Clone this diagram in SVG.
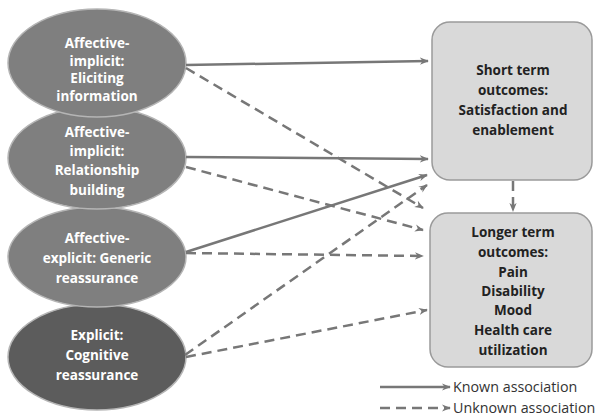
<svg xmlns="http://www.w3.org/2000/svg" width="595" height="418" viewBox="0 0 595 418">
<defs>
<marker id="ah" viewBox="0 0 10 10" refX="9" refY="5" markerWidth="9" markerHeight="9" markerUnits="userSpaceOnUse" orient="auto">
<path d="M0,1 L10,5 L0,9 L3,5 Z" fill="#777"/>
</marker>
<style>
.ell{fill:#7f7f7f;stroke:#b5b5b5;stroke-width:1.5}
.ell4{fill:#5c5c5c;stroke:#b5b5b5;stroke-width:1.5}
.box{fill:#d9d9d9;stroke:#9a9a9a;stroke-width:1.5}
.wt{font-family:"Open Sans","Liberation Sans",sans-serif;font-weight:bold;font-size:13.5px;fill:#fff;text-anchor:middle}
.bt{font-family:"Open Sans","Liberation Sans",sans-serif;font-weight:bold;font-size:13.5px;fill:#222;text-anchor:middle}
.lt{font-family:"Open Sans","Liberation Sans",sans-serif;font-size:14.3px;fill:#333}
.s{stroke:#777;stroke-width:2.5;fill:none;marker-end:url(#ah)}
.d{stroke:#777;stroke-width:2.5;fill:none;stroke-dasharray:10 6;marker-end:url(#ah)}
</style>
</defs>
<rect width="595" height="418" fill="#fff"/>
<g id="node-cognitive">
<ellipse class="ell4" cx="97" cy="357" rx="89" ry="53"/>
<text class="wt" x="97" y="340">Explicit:</text>
<text class="wt" x="97" y="360">Cognitive</text>
<text class="wt" x="97" y="380">reassurance</text>
</g>
<g id="node-generic">
<ellipse class="ell" cx="97" cy="257" rx="89" ry="50"/>
<text class="wt" x="97" y="243">Affective-</text>
<text class="wt" x="97" y="263">explicit: Generic</text>
<text class="wt" x="97" y="283">reassurance</text>
</g>
<g id="node-relationship">
<ellipse class="ell" cx="97" cy="158" rx="89" ry="51"/>
<text class="wt" x="97" y="137">Affective-</text>
<text class="wt" x="97" y="156">implicit:</text>
<text class="wt" x="97" y="175">Relationship</text>
<text class="wt" x="97" y="195">building</text>
</g>
<g id="node-eliciting">
<ellipse class="ell" cx="97" cy="63" rx="89" ry="54"/>
<text class="wt" x="97" y="48">Affective-</text>
<text class="wt" x="97" y="66">implicit:</text>
<text class="wt" x="97" y="83">Eliciting</text>
<text class="wt" x="97" y="101">information</text>
</g>
<g id="node-short">
<rect class="box" x="432" y="22" width="160" height="158" rx="18"/>
<text class="bt" x="513" y="75">Short term</text>
<text class="bt" x="513" y="95">outcomes:</text>
<text class="bt" x="513" y="115">Satisfaction and</text>
<text class="bt" x="513" y="135">enablement</text>
</g>
<g id="node-long">
<rect class="box" x="430" y="213" width="162" height="154" rx="18"/>
<text class="bt" x="513" y="237">Longer term</text>
<text class="bt" x="513" y="257">outcomes:</text>
<text class="bt" x="513" y="277">Pain</text>
<text class="bt" x="513" y="296">Disability</text>
<text class="bt" x="513" y="315">Mood</text>
<text class="bt" x="513" y="335">Health care</text>
<text class="bt" x="513" y="355">utilization</text>
</g>
<g id="connectors">
<line class="s" x1="186" y1="65" x2="428" y2="61"/>
<line class="d" x1="186" y1="68" x2="423" y2="208"/>
<line class="s" x1="186" y1="157" x2="428" y2="159"/>
<line class="d" x1="186" y1="167" x2="423" y2="230"/>
<line class="s" x1="186" y1="252" x2="427" y2="175"/>
<line class="d" x1="186" y1="253" x2="423" y2="256"/>
<line class="d" x1="185" y1="355" x2="427" y2="185"/>
<line class="d" x1="186" y1="357" x2="427" y2="310"/>
<line class="d" x1="513" y1="181" x2="513" y2="211"/>
</g>
<g id="legend">
<line class="s" x1="380" y1="387" x2="450" y2="387"/>
<text class="lt" x="453" y="392">Known association</text>
<line class="d" x1="380" y1="408" x2="450" y2="408"/>
<text class="lt" x="453" y="413">Unknown association</text>
</g>
</svg>
